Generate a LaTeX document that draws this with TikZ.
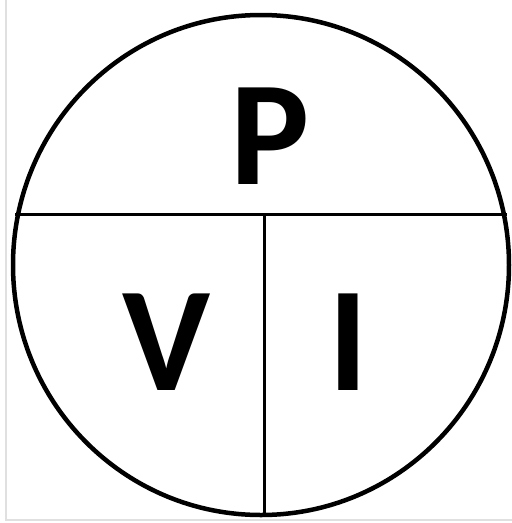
\documentclass[tikz,border=0pt]{standalone}
\usepackage{fontspec}
\newfontfamily\letterfont{Carlito}
\begin{document}
\begin{tikzpicture}[x=1pt,y=-1pt,
  rim/.style={line width=4.5pt},
  divider/.style={line width=3pt},
  letter/.style={font=\letterfont\bfseries\fontsize{149}{149}\selectfont, inner sep=0pt, anchor=center},
  frame/.style={line width=1.2pt, draw=black!12}]
\useasboundingbox (0,0) rectangle (512,523);
\fill[white] (0,0) rectangle (512,523);
\draw[frame] (6,0) -- (6,520) -- (512,520);
\coordinate (c) at (261,265);
\draw[rim] (c) ellipse [x radius=248, y radius=250];
\coordinate (hl) at (15,214);
\coordinate (hr) at (507,214);
\coordinate (vt) at (264,214);
\coordinate (vb) at (264,515);
\draw[divider] (hl) -- (hr);
\draw[divider] (vt) -- (vb);
\node[letter] (P) at (270,136) {P};
\node[letter] (V) at (167,342) {V};
\node[letter] (I) at (348,342) {I};
\end{tikzpicture}
\end{document}
